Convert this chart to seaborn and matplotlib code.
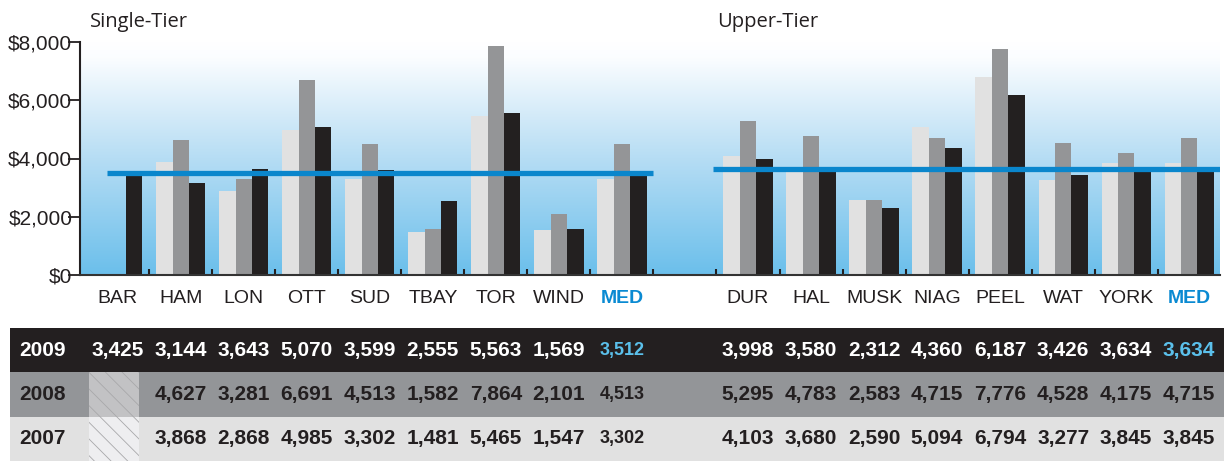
import matplotlib.pyplot as plt
import matplotlib.patches as mpatches
from matplotlib.colors import LinearSegmentedColormap
import numpy as np
import pandas as pd
import seaborn as sns

# Data
years = ['2007', '2008', '2009']
year_colors = ['#e1e1e1', '#939598', '#231f20']

single_names = ['BAR', 'HAM', 'LON', 'OTT', 'SUD', 'TBAY', 'TOR', 'WIND', 'MED']
single_2009 = [3425, 3144, 3643, 5070, 3599, 2555, 5563, 1569, 3512]
single_2008 = [np.nan, 4627, 3281, 6691, 4513, 1582, 7864, 2101, 4513]
single_2007 = [np.nan, 3868, 2868, 4985, 3302, 1481, 5465, 1547, 3302]

upper_names = ['DUR', 'HAL', 'MUSK', 'NIAG', 'PEEL', 'WAT', 'YORK', 'MED']
upper_2009 = [3998, 3580, 2312, 4360, 6187, 3426, 3634, 3634]
upper_2008 = [5295, 4783, 2583, 4715, 7776, 4528, 4175, 4715]
upper_2007 = [4103, 3680, 2590, 5094, 6794, 3277, 3845, 3845]

single_median = single_2009[-1]
upper_median = upper_2009[-1]

tiers = [
    ('S', single_names, {'2007': single_2007, '2008': single_2008, '2009': single_2009}),
    ('U', upper_names, {'2007': upper_2007, '2008': upper_2008, '2009': upper_2009}),
]
rows = []
for tier, names, vals in tiers:
    for i, n in enumerate(names):
        for y in years:
            rows.append({'key': tier + n, 'year': y, 'value': vals[y][i]})
df = pd.DataFrame(rows)
df_bars = df.dropna()

order = ['S' + n for n in single_names] + ['gap'] + ['U' + n for n in upper_names]
labels = single_names + [''] + upper_names
pos = {k: i for i, k in enumerate(order)}

sns.set_style('white')
plt.rcParams['font.family'] = ['Liberation Sans', 'DejaVu Sans']
plt.rcParams['hatch.linewidth'] = 0.6

fig = plt.figure(figsize=(12.24, 4.61), dpi=100)
ax = fig.add_axes([80 / 1224, 186 / 461, 1140 / 1224, 233 / 461])
x0, x1 = -0.6, 17.49

# background gradient
cmap = LinearSegmentedColormap.from_list(
    'bg', [(0, '#6bbfeb'), (0.5, '#b6ddf4'), (0.93, '#fbfdff'), (1, '#ffffff')])
grad = np.linspace(0, 1, 256).reshape(-1, 1)
ax.imshow(grad, extent=[x0, x1, 0, 8000], origin='lower', aspect='auto',
          cmap=cmap, zorder=0)

sns.barplot(data=df_bars, x='key', y='value', hue='year', order=order,
            hue_order=years, palette=year_colors, width=0.78, errorbar=None,
            linewidth=0, ax=ax, legend=False, zorder=2)

# median lines
ax.hlines(single_median, -0.17, 8.5, color='#0a86cc', lw=3.8, zorder=3)
ax.hlines(upper_median, 9.45, x1, color='#0a86cc', lw=3.8, zorder=3)

ax.set_xlim(x0, x1)
ax.set_ylim(0, 8000)
ax.set_xlabel('')
ax.set_ylabel('')
yt = [0, 2000, 4000, 6000, 8000]
ax.set_yticks(yt)
ax.set_yticklabels([f'${v:,}' for v in yt])
ax.tick_params(axis='y', direction='out', length=9, width=1.3, pad=-3.5,
               labelsize=15, color='#231f20', labelcolor='#231f20', left=True)
ax.set_xticks(range(len(order)))
ax.set_xticklabels(labels)
ax.tick_params(axis='x', which='major', length=0, pad=11, labelsize=14,
               labelcolor='#231f20')
ax.set_xticks(np.arange(0.5, 17, 1), minor=True)
ax.tick_params(axis='x', which='minor', direction='in', length=4, width=1.5,
               color='#231f20', bottom=True)
for t in ax.get_xticklabels():
    if t.get_text() == 'MED':
        t.set_color('#0a8ad2')
        t.set_fontweight('bold')

ax.spines['top'].set_visible(False)
ax.spines['right'].set_visible(False)
ax.spines['left'].set_linewidth(1.5)
ax.spines['left'].set_color('#231f20')
ax.spines['bottom'].set_linewidth(1.5)
ax.spines['bottom'].set_color('#333333')

fig.text(90 / 1224, 1 - 22 / 461, 'Single-Tier', fontfamily='Open Sans',
         fontsize=14.5, va='center', color='#231f20')
fig.text(717 / 1224, 1 - 22 / 461, 'Upper-Tier', fontfamily='Open Sans',
         fontsize=14.5, va='center', color='#231f20')

# table below the chart
tax = fig.add_axes([0, 0, 1, 133 / 461])
scale = (x1 - x0) / (1140 / 1224)
tx0 = x0 - (80 / 1224) * scale
tax.set_xlim(tx0, tx0 + scale)
tax.set_ylim(0, 3)
tax.axis('off')

row_bg = {'2009': '#231f20', '2008': '#939598', '2007': '#e1e1e1'}
row_fg = {'2009': '#ffffff', '2008': '#231f20', '2007': '#231f20'}
hatch_bg = {'2008': '#c2c2c4', '2007': '#eeeef0'}
row_y = {'2009': 2, '2008': 1, '2007': 0}
left = tx0 + 10 / 1224 * scale
for y in years:
    r = row_y[y]
    tax.add_patch(mpatches.Rectangle((left, r), tx0 + scale - left, 1,
                                     facecolor=row_bg[y], lw=0, zorder=1))
    tax.text(tx0 + 19 / 1224 * scale, r + 0.5, y, ha='left', va='center',
             fontsize=15, fontweight='bold', color=row_fg[y])
for _, rec in df.iterrows():
    x = pos[rec['key']]
    r = row_y[rec['year']]
    if np.isnan(rec['value']):
        tax.add_patch(mpatches.Rectangle((x - 0.45, r), 0.78, 1,
                                         facecolor=hatch_bg[rec['year']],
                                         edgecolor='#a8a8aa', hatch='\\\\',
                                         lw=0, zorder=2))
        continue
    color = row_fg[rec['year']]
    size = 15
    if rec['key'].endswith('MED'):
        if rec['year'] == '2009':
            color = '#5bc0eb'
        if rec['key'] == 'SMED':
            size = 13
    tax.text(x, r + 0.5, f"{int(rec['value']):,}", ha='center', va='center',
             fontsize=size, fontweight='bold', color=color, zorder=3)

fig.savefig('out.png', dpi=100)
